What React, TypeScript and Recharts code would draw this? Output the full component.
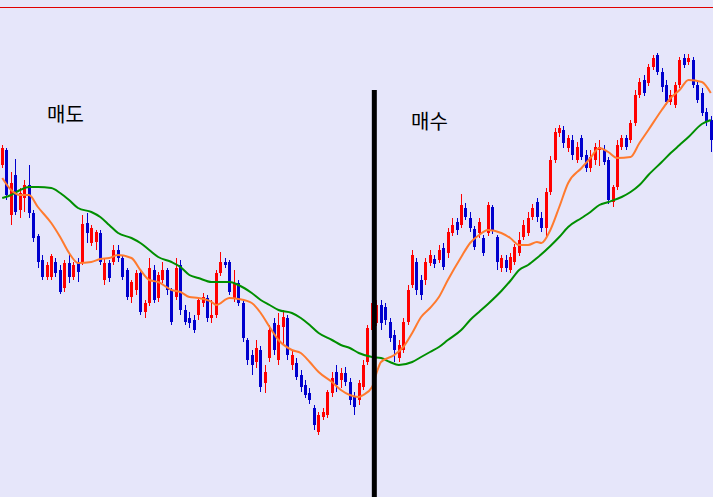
import React from 'react';
import { ComposedChart, Bar, Line, XAxis, YAxis, ReferenceLine } from 'recharts';

// candle prices, one entry per session (left to right)
const OPEN = [
  335, 350, 285, 325, 290, 302, 315, 287, 264, 240,
  223, 223, 238, 230, 212, 237, 223, 238, 237, 277,
  257, 258, 267, 220, 237, 238, 250, 242, 230, 203,
  210, 227, 188, 197, 230, 202, 220, 230, 210, 203,
  235, 190, 182, 180, 185, 197, 202, 182, 185, 227,
  238, 238, 202, 217, 197, 160, 145, 138, 150, 117,
  142, 177, 140, 173, 182, 135, 137, 125, 115, 107,
  92, 68, 83, 85, 107, 128, 120, 127, 118, 103,
  100, 113, 138, 170, 177, 195, 193, 178, 165, 142,
  150, 178, 215, 238, 220, 220, 237, 241, 240, 252,
  247, 267, 278, 275, 292, 282, 271, 267, 262, 267,
  293, 263, 232, 240, 230, 238, 247, 263, 267, 283,
  298, 282, 272, 308, 340, 367, 370, 352, 360, 340,
  362, 345, 332, 340, 350, 350, 340, 298, 313, 353,
  362, 360, 377, 405, 420, 417, 433, 445, 428, 415,
  398, 395, 415, 442, 438, 440, 415, 407, 388, 380,
];
const CLOSE = [
  352, 305, 317, 288, 307, 315, 287, 262, 238, 223,
  235, 244, 227, 208, 237, 223, 235, 228, 276, 267,
  272, 268, 238, 237, 222, 250, 242, 223, 203, 218,
  227, 188, 197, 232, 200, 225, 230, 210, 178, 232,
  190, 178, 177, 170, 200, 203, 182, 185, 227, 238,
  235, 208, 217, 197, 162, 140, 135, 152, 113, 128,
  170, 150, 175, 183, 145, 145, 123, 113, 105, 100,
  75, 85, 88, 108, 122, 115, 127, 118, 100, 93,
  117, 135, 172, 197, 195, 177, 180, 162, 150, 155,
  178, 210, 245, 210, 205, 238, 245, 236, 250, 233,
  268, 275, 270, 295, 283, 272, 253, 278, 247, 295,
  270, 238, 242, 232, 243, 253, 260, 275, 282, 292,
  283, 272, 308, 340, 368, 372, 357, 362, 345, 353,
  343, 332, 343, 353, 353, 338, 300, 313, 355, 362,
  353, 377, 405, 418, 407, 433, 442, 428, 413, 398,
  405, 415, 440, 435, 442, 415, 400, 387, 378, 360,
];
const HIGH = [
  355, 352, 328, 341, 312, 320, 335, 290, 266, 245,
  238, 246, 242, 235, 240, 247, 238, 242, 285, 287,
  275, 270, 270, 242, 240, 255, 255, 245, 232, 220,
  230, 230, 200, 242, 235, 228, 238, 232, 212, 242,
  240, 195, 188, 185, 203, 207, 205, 200, 230, 248,
  242, 240, 230, 220, 200, 162, 150, 160, 154, 135,
  175, 182, 187, 190, 185, 150, 142, 130, 120, 112,
  95, 88, 92, 110, 128, 135, 132, 133, 122, 108,
  120, 140, 175, 200, 200, 200, 197, 182, 170, 160,
  182, 215, 250, 242, 225, 242, 250, 245, 255, 257,
  272, 282, 282, 306, 297, 288, 274, 282, 265, 298,
  295, 265, 245, 245, 247, 256, 268, 280, 288, 296,
  302, 288, 312, 344, 372, 375, 374, 365, 365, 358,
  365, 350, 350, 357, 360, 355, 343, 315, 360, 365,
  365, 380, 410, 422, 425, 436, 445, 447, 432, 420,
  410, 418, 443, 446, 446, 443, 418, 412, 392, 384,
];
const LOW = [
  332, 300, 275, 285, 282, 288, 282, 258, 232, 220,
  220, 220, 223, 206, 208, 217, 220, 218, 235, 257,
  254, 250, 235, 215, 218, 235, 238, 220, 200, 197,
  205, 185, 182, 194, 197, 198, 217, 205, 175, 200,
  185, 175, 172, 167, 180, 193, 178, 177, 182, 224,
  232, 205, 198, 194, 158, 135, 125, 132, 108, 107,
  138, 145, 135, 155, 140, 130, 120, 108, 102, 96,
  70, 65, 80, 82, 103, 108, 112, 114, 95, 85,
  95, 110, 135, 165, 174, 170, 175, 158, 138, 138,
  147, 175, 212, 205, 200, 215, 234, 232, 237, 230,
  242, 264, 265, 272, 280, 268, 250, 262, 244, 264,
  266, 230, 228, 228, 227, 235, 244, 260, 264, 280,
  278, 268, 264, 305, 337, 363, 352, 348, 340, 337,
  340, 328, 328, 335, 334, 335, 296, 293, 310, 350,
  350, 357, 374, 402, 404, 414, 430, 425, 408, 395,
  395, 392, 412, 432, 435, 412, 397, 384, 374, 348,
];

// moving averages read at [session, value]
const FAST_MA = [
  [0, 322], [2, 310], [4, 305], [6, 305], [8, 293], [11, 277], [13, 263], [15, 247], [17, 237],
  [20, 238], [22, 241], [24, 242], [26, 245], [29, 242], [31, 230], [33, 220], [35, 218], [38, 210],
  [40, 208], [42, 203], [44, 202], [47, 198], [48, 195], [51, 202], [53, 201], [56, 197], [58, 187],
  [60, 173], [62, 160], [65, 150], [67, 147], [69, 138], [71, 128], [74, 118], [76, 110], [78, 105],
  [80, 103], [81, 105], [83, 113], [84, 127], [85, 138], [88, 145], [90, 153], [92, 167], [94, 183],
  [96, 192], [98, 203], [100, 220], [103, 243], [105, 257], [107, 265], [109, 270], [112, 267],
  [114, 262], [116, 255], [118, 255], [120, 258], [121, 257], [123, 270], [125, 293], [127, 317],
  [130, 332], [132, 342], [134, 352], [136, 348], [138, 342], [141, 343], [143, 357], [145, 370],
  [148, 390], [150, 402], [152, 410], [154, 420], [157, 418], [159, 407],
];
const SLOW_MA = [
  [0, 302], [2, 305], [4, 310], [6, 313], [8, 313], [11, 312], [13, 307], [15, 300], [17, 292],
  [20, 288], [22, 283], [24, 275], [26, 267], [29, 262], [31, 257], [33, 250], [35, 243], [38, 238],
  [40, 233], [42, 225], [44, 222], [47, 218], [49, 218], [51, 218], [53, 215], [56, 207], [58, 200],
  [60, 195], [62, 190], [65, 187], [67, 182], [69, 175], [71, 167], [74, 160], [76, 155], [78, 152],
  [80, 147], [83, 143], [85, 142], [87, 138], [89, 135], [92, 138], [94, 143], [96, 148], [98, 153],
  [100, 160], [103, 170], [105, 180], [107, 188], [109, 196], [112, 209], [114, 219], [116, 230],
  [118, 235], [120, 242], [123, 254], [125, 263], [127, 273], [130, 282], [132, 288], [134, 295],
  [136, 298], [139, 303], [141, 308], [143, 315], [145, 325], [148, 338], [150, 347], [152, 355],
  [154, 363], [157, 376], [159, 380],
];

const LEVEL_LINE = 492.5; // red level at the top
const SPLIT_SESSION = 83.5; // sell / buy divider
const SPLIT_TOP = 410;

const UP = '#ff0000';
const DOWN = '#0000cd';

const rows = OPEN.map((o, i) => ({
  idx: i,
  open: o,
  close: CLOSE[i],
  high: HIGH[i],
  low: LOW[i],
  range: [LOW[i], HIGH[i]],
}));
const fastRows = FAST_MA.map(([idx, v]) => ({ idx, v }));
const slowRows = SLOW_MA.map(([idx, v]) => ({ idx, v }));

const Candle = (props: any) => {
  const { x, y, width, height, payload } = props;
  const { open, close, high, low } = payload;
  const top = Math.min(y, y + height);
  const h = Math.abs(height);
  const toPx = (v: number) => top + ((high - v) / (high - low || 1)) * h;
  const color = close >= open ? UP : DOWN;
  const bodyTop = toPx(Math.max(open, close));
  const bodyH = Math.max(1, toPx(Math.min(open, close)) - bodyTop);
  const left = Math.round(x);
  const cx = left + 1.5;
  return (
    <g>
      <line x1={cx} x2={cx} y1={top} y2={top + h} stroke={color} strokeWidth={1} />
      <rect x={left} y={bodyTop} width={3} height={bodyH} fill={color} />
    </g>
  );
};

const label: React.CSSProperties = {
  position: 'absolute',
  fontFamily: '"Noto Sans CJK KR", sans-serif',
  fontSize: 20,
  lineHeight: '20px',
  color: '#000',
};

export default function App() {
  return (
    <div style={{ position: 'absolute', left: 0, top: 0, width: 713, height: 497, background: '#e6e6fa', overflow: 'hidden' }}>
      <ComposedChart width={713} height={497} data={rows} margin={{ top: 0, right: 0, bottom: 0, left: 0 }}>
        <XAxis dataKey="idx" type="number" domain={[-0.5, 159.5]} allowDataOverflow hide />
        <YAxis type="number" domain={[3, 500]} allowDataOverflow hide />
        <ReferenceLine y={LEVEL_LINE} stroke="#e00000" strokeWidth={1} />
        <Bar dataKey="range" barSize={3} shape={(p: any) => <Candle {...p} />} isAnimationActive={false} />
        <Line data={slowRows} dataKey="v" type="monotone" stroke="#008f00" strokeWidth={2} dot={false} activeDot={false} isAnimationActive={false} />
        <Line data={fastRows} dataKey="v" type="monotone" stroke="#ff7a2e" strokeWidth={2} dot={false} activeDot={false} isAnimationActive={false} />
        <ReferenceLine
          segment={[{ x: SPLIT_SESSION, y: SPLIT_TOP }, { x: SPLIT_SESSION, y: 3 }]}
          stroke="#000"
          strokeWidth={5}
        />
      </ComposedChart>
      <div style={{ ...label, left: 47, top: 104 }}>매도</div>
      <div style={{ ...label, left: 411, top: 111 }}>매수</div>
    </div>
  );
}
